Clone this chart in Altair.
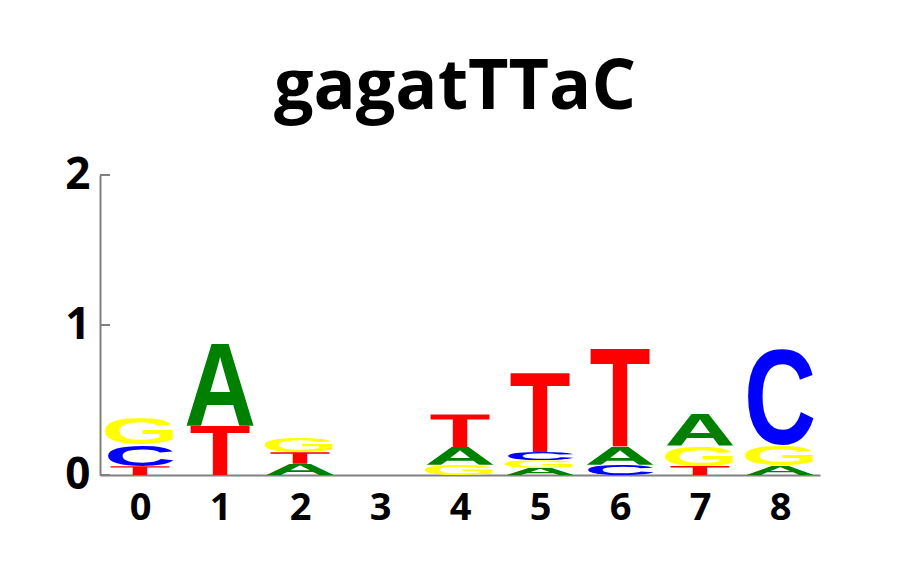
import urllib.parse
import altair as alt
import pandas as pd

# ---- data (bits) ----
positions = [0, 1, 2, 3, 4, 5, 6, 7, 8]
A = [0.000, 0.544, 0.075, 0.0, 0.118, 0.048, 0.120, 0.216, 0.062]
C = [0.144, 0.000, 0.000, 0.0, 0.000, 0.054, 0.069, 0.000, 0.644]
G = [0.176, 0.000, 0.100, 0.0, 0.068, 0.051, 0.000, 0.136, 0.133]
T = [0.058, 0.329, 0.077, 0.0, 0.218, 0.530, 0.651, 0.060, 0.000]
y_ticks = [0, 1, 2]
title_text = "gagatTTaC"

letter_colors = {"A": "#008000", "C": "#0000ff", "G": "#ffff00", "T": "#ff0000"}
# glyph box (top, height) in font units at font-size 100, Liberation Sans Bold
glyph_box = {"A": (-68.8, 68.8), "T": (-68.8, 68.8), "C": (-70.2, 71.6), "G": (-70.2, 71.6)}


def glyph_url(letter):
    top, hgt = glyph_box[letter]
    svg = (
        f'<svg xmlns="http://www.w3.org/2000/svg" viewBox="-40 {top} 80 {hgt}" '
        'preserveAspectRatio="none">'
        f'<text x="0" y="0" font-family="Liberation Sans, Arial, sans-serif" '
        f'font-weight="bold" font-size="100" text-anchor="middle" '
        f'fill="{letter_colors[letter]}">{letter}</text></svg>'
    )
    return "data:image/svg+xml;charset=utf-8," + urllib.parse.quote(svg)


rows = []
for i, p in enumerate(positions):
    col = [("A", A[i]), ("C", C[i]), ("G", G[i]), ("T", T[i])]
    col = sorted([c for c in col if c[1] > 0], key=lambda c: c[1])
    for letter, h in col:
        rows.append({"pos": p, "letter": letter, "h": h, "url": glyph_url(letter)})
df = pd.DataFrame(rows)

label_style = dict(
    labelFont="Open Sans", labelFontWeight="bold",
    labelColor="black", domainColor="#808080", domainWidth=2,
    ticks=False, grid=False, title=None, labelOverlap=False,
)
y_scale = alt.Scale(domain=[0, 2], nice=False)

letters = (
    alt.Chart(df)
    .transform_stack(
        stack="h", groupby=["pos"], as_=["y0", "y1"],
        sort=[alt.SortField("h", order="ascending")],
    )
    .transform_calculate(xa="datum.pos - 0.5", xb="datum.pos + 0.5")
    .mark_image(aspect=False)
    .encode(
        x=alt.X(
            "xa:Q",
            scale=alt.Scale(domain=[-0.5, 8.5], nice=False, zero=False),
            axis=alt.Axis(values=positions, format="d", labelFontSize=38,
                          labelPadding=14, **label_style),
        ),
        x2="xb:Q",
        y=alt.Y(
            "y0:Q", scale=y_scale,
            axis=alt.Axis(values=y_ticks, labelExpr="format(datum.value, 'd')",
                          labelFontSize=44, labelPadding=10, **label_style),
        ),
        y2="y1:Q",
        url="url:N",
    )
)

ticks = (
    alt.Chart(pd.DataFrame({"v": y_ticks}))
    .mark_rule(color="#808080", strokeWidth=2)
    .encode(y=alt.Y("v:Q", scale=y_scale, axis=None), x=alt.value(0), x2=alt.value(10))
)

chart = (
    alt.layer(letters, ticks)
    .resolve_axis(y="independent")
    .properties(
        width=720,
        height=300,
        background="white",
        title=alt.TitleParams(
            title_text, fontSize=70, font="Open Sans", fontWeight="bold",
            color="black", anchor="middle", offset=29, dx=-5,
        ),
        autosize=alt.AutoSizeParams(type="none"),
        padding={"left": 100, "top": 175, "right": 100, "bottom": 100},
    )
    .configure_view(strokeWidth=0, stroke="transparent")
)

chart.save("out.html", embed_options={"renderer": "svg", "actions": False})
